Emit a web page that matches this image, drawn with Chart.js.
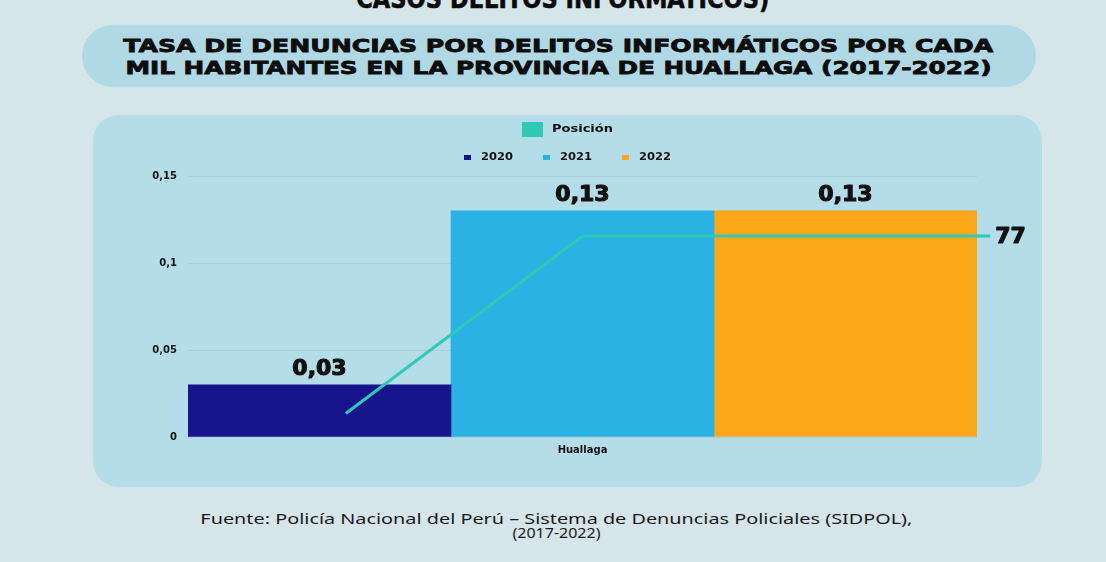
<!DOCTYPE html>
<html>
<head>
<meta charset="utf-8">
<script src="https://cdn.jsdelivr.net/npm/chart.js@4.4.1/dist/chart.umd.min.js"></script>
<style>
  html, body { margin:0; padding:0; }
  body { width:1106px; height:562px; background:#d5e5e9; position:relative; overflow:hidden; font-family:"DejaVu Sans", sans-serif; }
  .abs { position:absolute; }
  .fit { display:inline-block; white-space:nowrap; transform-origin:center center; }
  #topcut { left:0; width:1126px; text-align:center; top:-14px; font:bold 26px/26px "DejaVu Sans"; color:#0a0a0a; -webkit-text-stroke:0.6px #0a0a0a; }
  #pill { left:82px; top:25px; width:954px; height:62px; border-radius:31px; background:#b0d8e5; }
  #title { left:0; width:1116px; text-align:center; top:35px; font:bold 18px/21.5px "DejaVu Sans"; color:#0d0d0d; -webkit-text-stroke:0.8px #0d0d0d; }
  #panel { left:93px; top:115px; width:949px; height:372px; border-radius:26px; background:#b5dde9; }
  #wrap { left:93px; top:115px; width:949px; height:372px; }
  #foot { left:0; width:1112px; text-align:center; top:512px; font:14px/14px "Noto Sans", sans-serif; color:#1b1b1b; }
</style>
</head>
<body>
<div id="topcut" class="abs"><span class="fit" data-w="413">CASOS DELITOS INFORMÁTICOS)</span></div>
<div id="pill" class="abs"></div>
<div id="title" class="abs">
  <span class="fit" data-w="870">TASA DE DENUNCIAS POR DELITOS INFORMÁTICOS POR CADA</span><br>
  <span class="fit" data-w="866">MIL HABITANTES EN LA PROVINCIA DE HUALLAGA (2017-2022)</span>
</div>
<div id="panel" class="abs"></div>
<div id="wrap" class="abs"><canvas id="c" width="949" height="372"></canvas></div>
<div id="foot" class="abs">
  <span class="fit" data-w="712">Fuente: Policía Nacional del Perú – Sistema de Denuncias Policiales (SIDPOL),</span><br>
  <span class="fit" data-w="88">(2017-2022)</span>
</div>
<script>
// ---- data ----
const categories = ['Huallaga'];
const years = ['2020', '2021', '2022'];
const yearSlots = [2020, 2021, 2022];     // bar slot of each year inside the Huallaga group
const rate2020 = [0.03];
const rate2021 = [0.13];
const rate2022 = [0.13];
const positionLabel = 'Posición';
const positionX = [2020.1, 2021, 2022.55];
const positionValues = [9, 77, 77];
const yTicks = [0, 0.05, 0.1, 0.15];

// fit static texts
document.querySelectorAll('.fit').forEach(el => {
  const w = el.getBoundingClientRect().width;
  const t = parseFloat(el.dataset.w);
  el.style.transform = 'scaleX(' + (t / w) + ')';
});

const colors = { '2020': '#17148c', '2021': '#2cb1e4', '2022': '#fca71a', pos: '#2fc9b5' };
const fmt = v => String(Math.round(v * 100) / 100).replace('.', ',');
const FONT = '"DejaVu Sans", sans-serif';

function heavyText(ctx, txt, x, y) {
  ctx.lineWidth = 1.2;
  ctx.strokeStyle = ctx.fillStyle;
  ctx.lineJoin = 'round';
  ctx.strokeText(txt, x, y);
  ctx.fillText(txt, x, y);
}

const labelsPlugin = {
  id: 'labels',
  afterDatasetsDraw(chart) {
    const ctx = chart.ctx;
    ctx.save();
    chart.data.datasets.forEach((ds, i) => {
      const meta = chart.getDatasetMeta(i);
      ctx.font = 'bold 22px ' + FONT;
      ctx.fillStyle = '#111';
      if (ds.type === 'line') {
        const last = meta.data[meta.data.length - 1];
        ctx.textAlign = 'left';
        ctx.textBaseline = 'middle';
        heavyText(ctx, String(ds.data[ds.data.length - 1].y), last.x + 5, last.y + 1);
      } else {
        meta.data.forEach((el, j) => {
          ctx.textAlign = 'center';
          ctx.textBaseline = 'alphabetic';
          heavyText(ctx, fmt(ds.data[j].y), el.x, el.y - 10);
        });
      }
    });
    ctx.restore();
  }
};

const legendPlugin = {
  id: 'customLegend',
  afterDraw(chart) {
    const ctx = chart.ctx;
    const cx = chart.width / 2;
    ctx.save();
    ctx.font = 'bold 10px ' + FONT;
    ctx.textBaseline = 'middle';
    ctx.textAlign = 'left';
    const dsets = chart.data.datasets;
    dsets.filter(d => d.type === 'line').forEach(d => {
      const tw = ctx.measureText(d.label).width * 1.3;
      const total = 21 + 9 + tw;
      const x = cx - total / 2;
      ctx.fillStyle = d.borderColor;
      ctx.fillRect(x, 7, 21, 15);
      ctx.fillStyle = '#111';
      ctx.save(); ctx.translate(x + 30, 14); ctx.scale(1.3, 1); ctx.fillText(d.label, 0, 0); ctx.restore();
    });
    const items = dsets.filter(d => d.type !== 'line').map(d => ({ d, tw: ctx.measureText(d.label).width * 1.15 }));
    const gapItem = 30;
    const total = items.reduce((s, it) => s + 7 + 10 + it.tw, 0) + gapItem * (items.length - 1);
    let x = cx - total / 2;
    items.forEach(it => {
      ctx.fillStyle = it.d.backgroundColor;
      ctx.fillRect(x, 40, 7, 5);
      ctx.fillStyle = '#111';
      ctx.save(); ctx.translate(x + 17, 42); ctx.scale(1.15, 1); ctx.fillText(it.d.label, 0, 0); ctx.restore();
      x += 7 + 10 + it.tw + gapItem;
    });
    ctx.restore();
  }
};

const barOpts = { type: 'bar', grouped: false, categoryPercentage: 1, barPercentage: 1, borderWidth: 0, order: 1 };
const barData = (vals, k) => vals.map(v => ({ x: yearSlots[k], y: v }));

new Chart(document.getElementById('c'), {
  type: 'bar',
  data: {
    datasets: [
      { type: 'line', label: positionLabel, data: positionX.map((x, i) => ({ x, y: positionValues[i] })),
        yAxisID: 'y2', borderColor: colors.pos, backgroundColor: colors.pos,
        borderWidth: 3, pointRadius: 0, tension: 0, clip: false, order: 0 },
      Object.assign({ label: years[0], data: barData(rate2020, 0), backgroundColor: colors['2020'] }, barOpts),
      Object.assign({ label: years[1], data: barData(rate2021, 1), backgroundColor: colors['2021'] }, barOpts),
      Object.assign({ label: years[2], data: barData(rate2022, 2), backgroundColor: colors['2022'] }, barOpts)
    ]
  },
  options: {
    responsive: false,
    animation: false,
    events: [],
    layout: { padding: { top: 61, right: 65, left: 0, bottom: 0 } },
    plugins: { legend: { display: false }, tooltip: { enabled: false }, title: { display: false } },
    scales: {
      x: {
        type: 'linear', offset: false, min: 2019.5, max: 2022.5,
        afterBuildTicks(s) { s.ticks = [{ value: yearSlots[1] }]; },
        grid: { display: false, drawTicks: false }, border: { display: false },
        ticks: { color: '#111', font: { family: FONT, weight: 'bold', size: 10 }, padding: 7,
                 callback: () => categories[0], maxRotation: 0 },
        afterFit(s) { s.height = 50; }
      },
      y: {
        min: 0, max: 0.15,
        afterBuildTicks(s) { s.ticks = yTicks.map(v => ({ value: v })); },
        ticks: { color: '#111', font: { family: FONT, weight: 'bold', size: 10 }, padding: 11, callback: v => fmt(v) },
        grid: { color: 'rgba(150,175,185,0.3)', drawTicks: false, lineWidth: 1 },
        border: { display: false },
        afterFit(s) { s.width = 95; }
      },
      y2: { display: false, min: 0, max: 100, position: 'right' }
    }
  },
  plugins: [labelsPlugin, legendPlugin]
});
</script>
</body>
</html>
